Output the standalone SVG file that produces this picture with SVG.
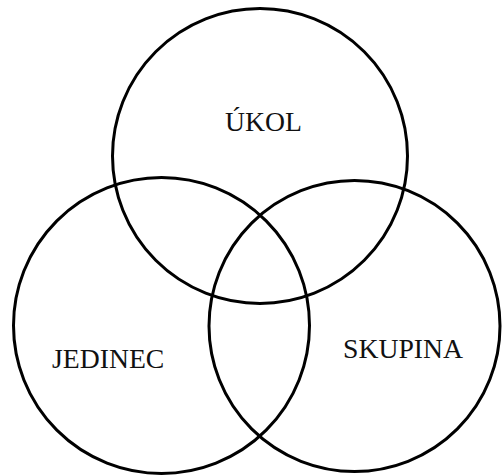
<svg xmlns="http://www.w3.org/2000/svg" width="502" height="476" viewBox="0 0 502 476">
<style>
.c{fill:none;stroke:#000;stroke-width:3}
.t{font-family:"Liberation Serif","Times New Roman",serif;font-size:27.7px;fill:#111}
</style>
<rect width="502" height="476" fill="#fff"/>
<g id="ukol"><circle class="c" cx="260" cy="156" r="147.5"/><text class="t" x="225" y="131">ÚKOL</text></g>
<g id="jedinec"><circle class="c" cx="161.5" cy="325.5" r="148"/><text class="t" x="52" y="368">JEDINEC</text></g>
<g id="skupina"><circle class="c" cx="354.5" cy="326" r="145.5"/><text class="t" x="343" y="357.5">SKUPINA</text></g>
<g id="connectors"/>
</svg>
